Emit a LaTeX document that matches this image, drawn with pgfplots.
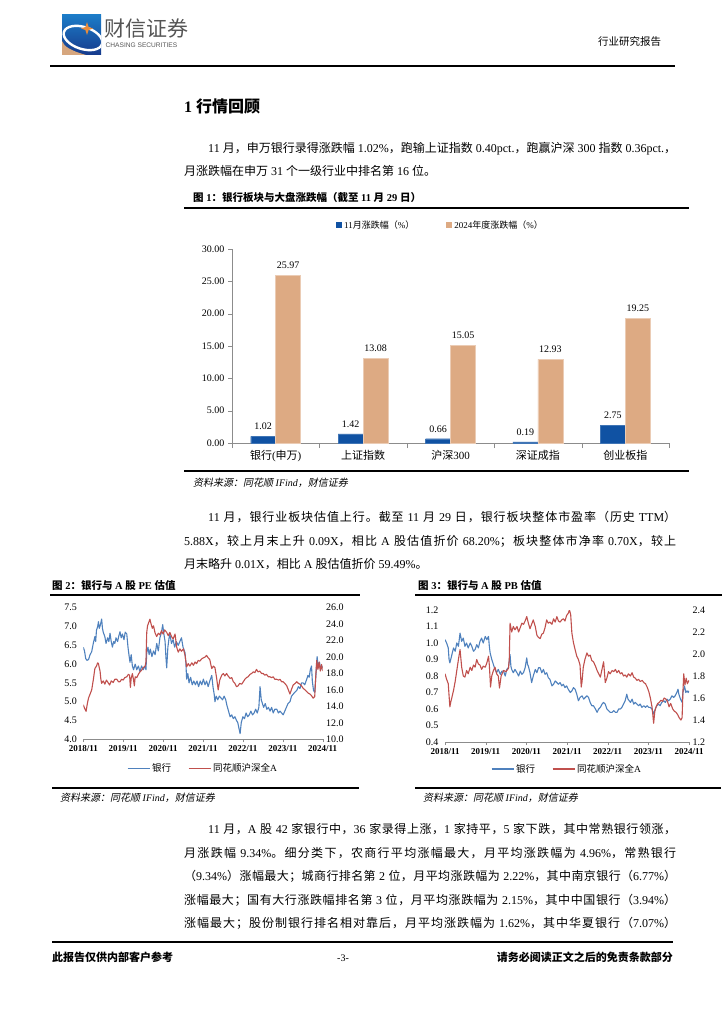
\documentclass[border=0pt]{standalone}
\usepackage{pgfplots}
\pgfplotsset{compat=1.18}
\usepackage{fontspec}
\setmainfont{Liberation Serif}
\newfontfamily\cjkfam{Noto Sans CJK SC}[NFSSFamily=notocjk, AutoFakeSlant=0.2]
\newfontfamily\sansfam{Liberation Sans}
\newXeTeXintercharclass\CJKcls
\makeatletter
\def\setcjkrange#1#2{\count@=#1\relax
  \loop\XeTeXcharclass\count@=\CJKcls\relax
  \ifnum\count@<#2\relax\advance\count@\@ne\repeat}
\setcjkrange{"3000}{"303F}
\setcjkrange{"4E00}{"9FFF}
\setcjkrange{"FF01}{"FF5E}
\makeatother
\XeTeXinterchartoks 0 \CJKcls = {\fontfamily{notocjk}\selectfont}
\XeTeXinterchartoks 4095 \CJKcls = {\fontfamily{notocjk}\selectfont}
\XeTeXinterchartoks \CJKcls 0 = {\fontfamily{\rmdefault}\selectfont}
\XeTeXinterchartoks \CJKcls 4095 = {\fontfamily{\rmdefault}\selectfont}
\XeTeXinterchartoks \CJKcls \CJKcls = {\hskip 0pt plus 1.5pt minus 0.4pt\relax}

\definecolor{barblue}{RGB}{16,82,163}
\definecolor{bartan}{RGB}{221,170,131}
\definecolor{lblue}{RGB}{79,129,189}
\definecolor{lred}{RGB}{192,80,77}
\definecolor{axgray}{RGB}{140,140,140}
\definecolor{logoA}{RGB}{28,124,200}
\definecolor{logoB}{RGB}{22,58,140}
\definecolor{logotan}{RGB}{214,166,126}
\definecolor{logoorange}{RGB}{232,140,60}
\definecolor{logogray}{RGB}{85,85,85}

\newcommand\body{\fontsize{12}{12}\selectfont}

\pgfplotsset{
  /pgf/number format/assume math mode=true,
  lcbase/.style={
    scale only axis, xmin=0, xmax=6,
    yticklabel style={font=\fontsize{10}{10}\selectfont,
      /pgf/number format/.cd, fixed, fixed zerofill, precision=1},
  },
}

\begin{document}
\XeTeXinterchartokenstate=1
\begin{tikzpicture}
\useasboundingbox (0pt,0pt) rectangle (724pt,-1024pt);

% ---------- header ----------
\begin{scope}
  \clip (62pt,-15pt) rectangle (101pt,-55pt);
  \shade[top color=logoA, bottom color=logoB] (62pt,-15pt) rectangle (101pt,-55pt);
  \fill[logotan] (62pt,-41pt) -- (62pt,-55pt) -- (86pt,-55pt) .. controls (72pt,-51pt) and (64pt,-47pt) .. (62pt,-41pt) -- cycle;
  \draw[white, line width=2.4pt, rotate around={-18:(83pt,-38pt)}] (83pt,-38pt) ellipse (20pt and 11pt);
  \fill[logoorange] (87pt,-22pt) -- (88.6pt,-27pt) -- (93pt,-28.5pt) -- (88.6pt,-30pt) -- (87pt,-35pt) -- (85.4pt,-30pt) -- (81pt,-28.5pt) -- (85.4pt,-27pt) -- cycle;
\end{scope}
\node[anchor=base west, inner sep=0pt, font=\fontsize{21}{21}\selectfont, text=logogray] at (104pt,-37pt) {财信证券};
\node[anchor=base west, inner sep=0pt, font=\sansfam\fontsize{6.6}{6.6}\selectfont, text=logogray] at (105.5pt,-48pt) {CHASING SECURITIES};
\node[anchor=base west, inner sep=0pt, font=\fontsize{10.5}{10.5}\selectfont] at (598pt,-46pt) {行业研究报告};
\draw[line width=1.2pt] (50pt,-66pt) -- (675pt,-66pt);

% ---------- section title & paragraph 1 ----------
\node[anchor=base west, inner sep=0pt, font=\bfseries\fontsize{16}{16}\selectfont] at (184pt,-113pt) {1 行情回顾};
\node[anchor=base west, inner sep=0pt, font=\body] at (208pt,-152.6pt) {\hbox to 468pt{11 月，申万银行录得涨跌幅 1.02\%，跑输上证指数 0.40pct.，跑赢沪深 300 指数 0.36pct.，}};
\node[anchor=base west, inner sep=0pt, font=\body] at (184pt,-175.6pt) {月涨跌幅在申万 31 个一级行业中排名第 16 位。};

% ---------- figure 1 ----------
\node[anchor=base west, inner sep=0pt, font=\bfseries\fontsize{10.5}{10.5}\selectfont] at (193pt,-202pt) {图 1：银行板块与大盘涨跌幅（截至 11 月 29 日）};
\draw[line width=1.4pt] (184pt,-208pt) -- (689pt,-208pt);

\begin{axis}[
  at={(232pt,-443pt)}, anchor=south west, scale only axis,
  width=437pt, height=194pt,
  ybar=0pt, bar width=25pt,
  xmin=-0.5, xmax=4.5, ymin=0, ymax=30,
  ytick={0,5,10,15,20,25,30},
  xtick={0,1,2,3,4},
  xticklabels={银行(申万),上证指数,沪深300,深证成指,创业板指},
  minor xtick={-0.5,0.5,1.5,2.5,3.5,4.5},
  axis x line*=bottom, axis y line*=left,
  axis line style={-, draw=axgray},
  tick align=outside, major tick length=4pt, minor tick length=5pt,
  major x tick style={draw=none},
  minor x tick style={draw=axgray},
  ytick style={draw=axgray},
  yticklabel style={font=\fontsize{10}{10}\selectfont, /pgf/number format/.cd, fixed, fixed zerofill, precision=2},
  xticklabel style={font=\fontsize{11}{11}\selectfont},
  nodes near coords,
  nodes near coords style={font=\fontsize{10}{10}\selectfont, yshift=3pt, /pgf/number format/.cd, fixed, fixed zerofill, precision=2},
  legend style={at={(0.5,1)}, anchor=south, yshift=16pt, xshift=-10pt, draw=none, fill=none, inner sep=1pt,
    legend columns=2, font=\fontsize{9}{9}\selectfont,
    /tikz/every even column/.append style={column sep=30pt}},
  legend image code/.code={\draw[#1, draw=none] (0pt,-3pt) rectangle (6pt,3pt);},
]
\addplot[fill=barblue, draw=barblue!80!white, line width=0.4pt] coordinates {(0,1.02) (1,1.42) (2,0.66) (3,0.19) (4,2.75)};
\addplot[fill=bartan, draw=bartan!60!white, line width=0.6pt] coordinates {(0,25.97) (1,13.08) (2,15.05) (3,12.93) (4,19.25)};
\legend{11月涨跌幅（\%）, 2024年度涨跌幅（\%）}
\end{axis}

\draw[line width=1.4pt] (184pt,-471pt) -- (689pt,-471pt);
\node[anchor=base west, inner sep=0pt, font=\itshape\fontsize{10}{10}\selectfont] at (193pt,-486pt) {资料来源：同花顺 IFind，财信证券};

% ---------- paragraph 2 ----------
\node[anchor=base west, inner sep=0pt, font=\body] at (208pt,-521.6pt) {\hbox to 468pt{11 月，银行业板块估值上行。截至 11 月 29 日，银行板块整体市盈率（历史 TTM）}};
\node[anchor=base west, inner sep=0pt, font=\body] at (184pt,-545.1pt) {\hbox to 492pt{5.88X，较上月末上升 0.09X，相比 A 股估值折价 68.20\%；板块整体市净率 0.70X，较上}};
\node[anchor=base west, inner sep=0pt, font=\body] at (184pt,-568.6pt) {月末略升 0.01X，相比 A 股估值折价 59.49\%。};

% ---------- figure 2 / 3 titles ----------
\node[anchor=base west, inner sep=0pt, font=\bfseries\fontsize{10.5}{10.5}\selectfont] at (52pt,-589pt) {图 2：银行与 A 股 PE 估值};
\draw[line width=1.4pt] (50pt,-595pt) -- (360pt,-595pt);
\node[anchor=base west, inner sep=0pt, font=\bfseries\fontsize{10.5}{10.5}\selectfont] at (418pt,-589pt) {图 3：银行与 A 股 PB 估值};
\draw[line width=1.4pt] (415pt,-595pt) -- (722pt,-595pt);

% ---------- figure 2: PE ----------
\begin{axis}[lcbase,
  at={(83.3pt,-739.3pt)}, anchor=south west, width=239.4pt, height=131.6pt,
  ymin=4, ymax=7.5, ytick={4,4.5,5,5.5,6,6.5,7,7.5},
  xtick={0,1,2,3,4,5,6},
  xticklabels={2018/11,2019/11,2020/11,2021/11,2022/11,2023/11,2024/11},
  xticklabel style={font=\bfseries\fontsize{9}{9}\selectfont},
  axis x line*=bottom, axis y line*=left,
  x axis line style={-, draw=axgray}, y axis line style={draw=none},
  tick align=outside, major tick length=3pt,
  xtick style={draw=axgray}, ytick style={draw=none},
  legend style={at={(0.5,0)}, anchor=north, yshift=-21pt, draw=none, fill=none, inner sep=1pt,
    legend columns=2, font=\fontsize{9.5}{9.5}\selectfont,
    /tikz/every even column/.append style={column sep=15pt}},
  legend image code/.code={\draw[#1] (0pt,0pt) -- (22pt,0pt);},
]
\addplot[color=lblue, line width=1.1pt, line join=round] coordinates {
(0.00,6.45)(0.03,6.35)(0.06,6.15)(0.09,6.10)(0.13,6.12)(0.17,6.25)(0.21,6.33)(0.25,6.55)(0.29,6.73)(0.31,6.60)(0.33,6.90)(0.36,7.00)(0.38,7.13)(0.40,6.95)(0.43,7.05)(0.46,7.20)(0.48,6.95)(0.50,6.85)(0.54,6.73)(0.57,6.55)(0.61,6.70)(0.64,6.60)(0.67,6.82)(0.70,6.60)(0.73,6.45)(0.76,6.60)(0.79,6.55)(0.82,6.70)(0.86,6.60)(0.89,6.75)(0.92,6.86)(0.95,6.70)(0.98,6.80)(1.02,6.65)(1.05,6.85)(1.09,6.80)(1.12,6.45)(1.15,6.20)(1.17,6.05)(1.20,6.25)(1.23,5.95)(1.26,5.85)(1.30,6.00)(1.34,5.85)(1.38,5.95)(1.42,5.80)(1.46,5.95)(1.50,5.85)(1.55,5.95)(1.57,5.85)(1.59,6.30)(1.62,6.45)(1.65,6.25)(1.68,6.40)(1.72,6.20)(1.76,6.35)(1.80,6.25)(1.84,6.55)(1.88,6.35)(1.92,6.70)(1.96,6.85)(1.99,7.05)(2.02,6.80)(2.05,6.60)(2.07,6.20)(2.09,5.90)(2.12,6.45)(2.15,6.70)(2.17,6.80)(2.21,6.55)(2.25,6.65)(2.29,6.45)(2.33,6.60)(2.38,6.50)(2.42,6.60)(2.46,6.70)(2.50,6.45)(2.55,6.30)(2.57,6.05)(2.59,5.60)(2.62,5.75)(2.65,5.50)(2.69,5.65)(2.73,5.45)(2.77,5.55)(2.81,5.45)(2.85,5.55)(2.89,5.40)(2.93,5.55)(2.97,5.45)(3.01,5.60)(3.05,5.45)(3.09,5.55)(3.13,5.40)(3.17,5.55)(3.22,5.70)(3.25,5.40)(3.28,5.20)(3.30,5.00)(3.33,5.15)(3.37,5.05)(3.41,5.15)(3.45,5.10)(3.49,5.05)(3.53,5.15)(3.57,5.05)(3.60,4.90)(3.64,4.75)(3.68,4.60)(3.72,4.65)(3.76,4.55)(3.80,4.60)(3.84,4.50)(3.87,4.45)(3.90,4.30)(3.93,4.15)(3.96,4.45)(4.00,4.60)(4.04,4.55)(4.08,4.70)(4.12,4.60)(4.16,4.65)(4.20,4.75)(4.24,4.65)(4.28,4.70)(4.32,4.80)(4.36,4.70)(4.40,4.85)(4.43,5.40)(4.46,5.05)(4.49,4.95)(4.52,4.85)(4.56,4.95)(4.60,4.80)(4.64,4.85)(4.68,4.75)(4.72,4.85)(4.76,4.70)(4.80,4.80)(4.85,4.80)(4.89,4.70)(4.93,4.75)(4.97,4.70)(5.01,4.65)(5.05,4.75)(5.09,4.85)(5.13,4.95)(5.18,5.00)(5.22,5.15)(5.26,5.20)(5.30,5.25)(5.35,5.30)(5.39,5.40)(5.43,5.35)(5.47,5.50)(5.51,5.50)(5.55,5.45)(5.60,5.60)(5.63,5.70)(5.66,5.65)(5.69,5.85)(5.72,5.95)(5.74,5.55)(5.77,5.30)(5.80,5.25)(5.83,5.70)(5.86,6.20)(5.89,5.90)(5.92,6.05)(5.95,5.85)(5.98,5.95)(6.00,5.90)
};
\addlegendentry{银行}
\addlegendimage{color=lred, line width=1.1pt}
\addlegendentry{同花顺沪深全A}
\end{axis}
\begin{axis}[lcbase,
  at={(83.3pt,-739.3pt)}, anchor=south west, width=239.4pt, height=131.6pt,
  ymin=10, ymax=26, ytick={10,12,14,16,18,20,22,24,26},
  hide x axis, axis y line*=right,
  y axis line style={draw=none}, ytick style={draw=none},
]
\addplot[color=lred, line width=1.1pt, line join=round] coordinates {
(0.00,14.2)(0.03,13.8)(0.07,13.4)(0.10,14.3)(0.13,15.0)(0.17,15.5)(0.21,16.0)(0.25,17.2)(0.29,18.6)(0.33,18.9)(0.36,19.3)(0.38,19.2)(0.40,18.7)(0.42,18.3)(0.44,17.3)(0.46,16.8)(0.50,17.1)(0.54,16.7)(0.58,17.2)(0.62,16.9)(0.66,16.6)(0.70,17.1)(0.75,16.9)(0.79,17.3)(0.84,17.3)(0.88,17.0)(0.92,17.0)(0.96,17.3)(1.00,17.2)(1.04,17.5)(1.09,17.6)(1.13,17.9)(1.16,17.8)(1.18,16.3)(1.20,17.4)(1.23,18.0)(1.26,17.2)(1.28,16.5)(1.30,17.6)(1.34,17.5)(1.38,17.9)(1.42,18.2)(1.46,18.4)(1.50,18.7)(1.55,18.9)(1.57,19.4)(1.59,23.0)(1.61,23.8)(1.64,24.2)(1.67,24.6)(1.70,24.0)(1.73,23.5)(1.76,23.8)(1.80,22.9)(1.84,22.5)(1.88,22.9)(1.92,22.7)(1.96,23.2)(2.00,22.8)(2.04,23.3)(2.09,23.0)(2.13,22.6)(2.17,23.0)(2.21,22.5)(2.25,22.2)(2.30,22.8)(2.32,22.0)(2.34,21.2)(2.38,20.6)(2.42,21.0)(2.46,20.7)(2.51,21.0)(2.55,20.2)(2.59,18.8)(2.63,19.2)(2.67,18.9)(2.72,19.3)(2.76,19.0)(2.80,19.4)(2.84,19.2)(2.88,19.6)(2.92,19.5)(2.97,19.8)(3.01,19.9)(3.05,20.0)(3.09,20.2)(3.13,19.9)(3.17,19.7)(3.20,19.0)(3.22,18.6)(3.26,18.9)(3.30,18.7)(3.34,17.5)(3.38,16.0)(3.42,17.2)(3.47,17.8)(3.51,18.0)(3.55,17.7)(3.59,18.0)(3.63,17.7)(3.68,17.4)(3.72,17.5)(3.76,17.0)(3.80,16.8)(3.84,16.4)(3.88,16.5)(3.92,16.8)(3.97,16.7)(4.01,17.0)(4.05,17.3)(4.09,17.5)(4.13,17.6)(4.18,17.9)(4.22,18.0)(4.26,18.2)(4.30,18.1)(4.34,18.5)(4.38,18.2)(4.42,18.3)(4.47,18.0)(4.51,18.0)(4.55,17.8)(4.59,17.9)(4.64,17.6)(4.68,17.6)(4.72,17.5)(4.76,17.6)(4.80,17.3)(4.85,17.3)(4.89,17.2)(4.93,17.3)(4.97,17.0)(5.01,17.0)(5.05,16.8)(5.10,16.5)(5.14,16.0)(5.18,15.5)(5.22,16.1)(5.26,16.6)(5.31,16.8)(5.35,17.0)(5.39,16.8)(5.43,16.7)(5.47,16.5)(5.51,16.2)(5.56,16.0)(5.60,15.8)(5.64,15.6)(5.68,15.5)(5.72,15.3)(5.76,15.0)(5.80,15.2)(5.83,18.0)(5.85,19.6)(5.88,18.5)(5.91,19.4)(5.94,18.3)(5.97,19.1)(6.00,18.3)
};
\end{axis}

% ---------- figure 3: PB ----------
\begin{axis}[lcbase,
  at={(445pt,-742pt)}, anchor=south west, width=244pt, height=132pt,
  ymin=0.4, ymax=1.2, ytick={0.4,0.5,0.6,0.7,0.8,0.9,1.0,1.1,1.2},
  xtick={0,1,2,3,4,5,6},
  xticklabels={2018/11,2019/11,2020/11,2021/11,2022/11,2023/11,2024/11},
  xticklabel style={font=\bfseries\fontsize{9}{9}\selectfont},
  axis x line*=bottom, axis y line*=left,
  x axis line style={-, draw=axgray}, y axis line style={draw=none},
  tick align=outside, major tick length=3pt,
  xtick style={draw=axgray}, ytick style={draw=none},
  legend style={at={(0.5,0)}, anchor=north, yshift=-19pt, draw=none, fill=none, inner sep=1pt,
    legend columns=2, font=\fontsize{9.5}{9.5}\selectfont,
    /tikz/every even column/.append style={column sep=15pt}},
  legend image code/.code={\draw[#1] (0pt,0pt) -- (22pt,0pt);},
]
\addplot[color=lblue, line width=1.1pt, line join=round] coordinates {
(0.00,1.02)(0.04,1.00)(0.08,0.97)(0.10,0.90)(0.12,0.88)(0.16,0.92)(0.21,0.97)(0.25,0.95)(0.29,1.00)(0.33,0.98)(0.37,1.06)(0.41,1.01)(0.45,1.03)(0.49,0.98)(0.53,1.00)(0.57,0.97)(0.62,1.00)(0.66,0.98)(0.70,0.95)(0.74,0.96)(0.78,0.99)(0.82,0.97)(0.86,1.01)(0.90,1.03)(0.94,1.00)(0.99,1.04)(1.03,1.02)(1.07,1.04)(1.09,0.98)(1.11,0.94)(1.15,0.90)(1.19,0.87)(1.23,0.84)(1.27,0.82)(1.31,0.84)(1.36,0.81)(1.40,0.83)(1.44,0.83)(1.48,0.80)(1.52,0.84)(1.56,0.85)(1.60,0.93)(1.62,0.86)(1.64,0.84)(1.68,0.82)(1.72,0.84)(1.77,0.82)(1.81,0.80)(1.85,0.83)(1.89,0.81)(1.93,0.82)(1.97,0.85)(2.01,0.91)(2.03,0.87)(2.05,0.86)(2.09,0.82)(2.13,0.76)(2.17,0.80)(2.22,0.84)(2.26,0.82)(2.30,0.85)(2.34,0.85)(2.38,0.82)(2.42,0.84)(2.46,0.81)(2.50,0.82)(2.54,0.79)(2.58,0.78)(2.63,0.74)(2.67,0.75)(2.71,0.77)(2.75,0.76)(2.79,0.75)(2.83,0.76)(2.87,0.74)(2.91,0.75)(2.95,0.73)(2.99,0.74)(3.03,0.72)(3.08,0.70)(3.12,0.71)(3.16,0.73)(3.20,0.72)(3.24,0.69)(3.28,0.65)(3.32,0.67)(3.37,0.68)(3.41,0.66)(3.45,0.67)(3.49,0.68)(3.53,0.67)(3.57,0.64)(3.61,0.62)(3.65,0.62)(3.70,0.60)(3.74,0.58)(3.78,0.60)(3.82,0.61)(3.86,0.63)(3.90,0.64)(3.94,0.63)(3.98,0.60)(4.02,0.59)(4.06,0.58)(4.11,0.58)(4.15,0.59)(4.19,0.58)(4.23,0.58)(4.27,0.60)(4.31,0.60)(4.35,0.61)(4.39,0.63)(4.43,0.65)(4.47,0.69)(4.50,0.66)(4.53,0.65)(4.56,0.64)(4.60,0.66)(4.64,0.63)(4.68,0.64)(4.72,0.63)(4.76,0.62)(4.80,0.63)(4.84,0.61)(4.89,0.62)(4.93,0.61)(4.97,0.62)(5.01,0.61)(5.05,0.61)(5.09,0.60)(5.13,0.57)(5.17,0.60)(5.21,0.62)(5.25,0.63)(5.29,0.62)(5.33,0.64)(5.38,0.65)(5.42,0.64)(5.46,0.66)(5.50,0.65)(5.54,0.66)(5.58,0.68)(5.62,0.67)(5.66,0.68)(5.70,0.70)(5.73,0.72)(5.75,0.69)(5.79,0.66)(5.83,0.64)(5.85,0.70)(5.89,0.74)(5.92,0.70)(5.95,0.71)(5.98,0.70)(6.00,0.71)
};
\addlegendentry{银行}
\addlegendimage{color=lred, line width=1.1pt}
\addlegendentry{同花顺沪深全A}
\end{axis}
\begin{axis}[lcbase,
  at={(445pt,-742pt)}, anchor=south west, width=244pt, height=132pt,
  ymin=1.2, ymax=2.4, ytick={1.2,1.4,1.6,1.8,2.0,2.2,2.4},
  hide x axis, axis y line*=right,
  y axis line style={draw=none}, ytick style={draw=none},
]
\addplot[color=lred, line width=1.1pt, line join=round] coordinates {
(0.00,1.82)(0.04,1.77)(0.08,1.73)(0.10,1.62)(0.12,1.52)(0.14,1.56)(0.16,1.59)(0.21,1.67)(0.25,1.75)(0.29,1.85)(0.33,1.95)(0.37,2.04)(0.39,1.96)(0.41,1.88)(0.45,1.80)(0.49,1.79)(0.53,1.85)(0.57,1.82)(0.62,1.88)(0.66,1.85)(0.70,1.90)(0.74,1.88)(0.78,1.95)(0.82,1.91)(0.86,1.90)(0.90,1.86)(0.94,1.89)(0.99,1.88)(1.03,1.92)(1.07,1.98)(1.09,1.90)(1.12,1.70)(1.15,1.80)(1.19,1.85)(1.23,1.88)(1.27,1.82)(1.31,1.80)(1.34,1.69)(1.38,1.80)(1.44,1.85)(1.50,1.84)(1.56,1.87)(1.58,1.95)(1.60,2.28)(1.64,2.20)(1.68,2.25)(1.72,2.22)(1.77,2.25)(1.81,2.20)(1.85,2.24)(1.89,2.28)(1.93,2.27)(1.97,2.30)(2.01,2.34)(2.05,2.28)(2.09,2.23)(2.13,2.27)(2.17,2.31)(2.22,2.25)(2.26,2.17)(2.30,2.15)(2.34,2.14)(2.38,2.18)(2.42,2.19)(2.46,2.24)(2.50,2.31)(2.54,2.28)(2.58,2.29)(2.63,2.27)(2.67,2.32)(2.71,2.29)(2.75,2.34)(2.79,2.30)(2.83,2.29)(2.87,2.31)(2.91,2.32)(2.95,2.30)(2.99,2.35)(3.03,2.37)(3.06,2.40)(3.09,2.36)(3.12,2.19)(3.16,2.10)(3.20,2.04)(3.24,1.98)(3.28,1.95)(3.32,1.90)(3.35,1.70)(3.37,1.75)(3.40,1.88)(3.44,1.95)(3.49,2.01)(3.53,1.98)(3.57,1.99)(3.61,1.94)(3.65,1.93)(3.70,1.89)(3.74,1.85)(3.78,1.82)(3.82,1.79)(3.86,1.86)(3.90,1.93)(3.92,1.84)(3.94,1.74)(3.98,1.78)(4.02,1.84)(4.06,1.82)(4.11,1.85)(4.15,1.84)(4.19,1.86)(4.23,1.83)(4.27,1.85)(4.31,1.82)(4.35,1.83)(4.39,1.80)(4.43,1.81)(4.47,1.79)(4.51,1.82)(4.56,1.80)(4.60,1.83)(4.64,1.79)(4.68,1.78)(4.72,1.76)(4.76,1.77)(4.80,1.75)(4.85,1.76)(4.89,1.74)(4.93,1.73)(4.97,1.70)(5.01,1.66)(5.05,1.60)(5.09,1.52)(5.11,1.45)(5.13,1.37)(5.16,1.48)(5.19,1.52)(5.23,1.55)(5.27,1.56)(5.31,1.58)(5.35,1.57)(5.39,1.60)(5.43,1.59)(5.47,1.57)(5.51,1.52)(5.55,1.55)(5.60,1.50)(5.64,1.48)(5.68,1.47)(5.72,1.45)(5.76,1.42)(5.80,1.40)(5.83,1.42)(5.85,1.65)(5.87,1.82)(5.90,1.72)(5.93,1.78)(5.96,1.73)(6.00,1.76)
};
\end{axis}

% ---------- sources under fig 2/3 ----------
\draw[line width=1.4pt] (52pt,-788pt) -- (359pt,-788pt);
\draw[line width=1.4pt] (415pt,-788pt) -- (721pt,-788pt);
\node[anchor=base west, inner sep=0pt, font=\itshape\fontsize{10}{10}\selectfont] at (60pt,-801pt) {资料来源：同花顺 IFind，财信证券};
\node[anchor=base west, inner sep=0pt, font=\itshape\fontsize{10}{10}\selectfont] at (423pt,-801pt) {资料来源：同花顺 IFind，财信证券};

% ---------- paragraph 3 ----------
\node[anchor=base west, inner sep=0pt, font=\body] at (208pt,-833.6pt) {\hbox to 468pt{11 月，A 股 42 家银行中，36 家录得上涨，1 家持平，5 家下跌，其中常熟银行领涨，}};
\node[anchor=base west, inner sep=0pt, font=\body] at (184pt,-857.1pt) {\hbox to 492pt{月涨跌幅 9.34\%。细分类下，农商行平均涨幅最大，月平均涨跌幅为 4.96\%，常熟银行}};
\node[anchor=base west, inner sep=0pt, font=\body] at (184pt,-880.6pt) {\hbox to 492pt{（9.34\%）涨幅最大；城商行排名第 2 位，月平均涨跌幅为 2.22\%，其中南京银行（6.77\%）}};
\node[anchor=base west, inner sep=0pt, font=\body] at (184pt,-904.1pt) {\hbox to 492pt{涨幅最大；国有大行涨跌幅排名第 3 位，月平均涨跌幅为 2.15\%，其中中国银行（3.94\%）}};
\node[anchor=base west, inner sep=0pt, font=\body] at (184pt,-927.6pt) {\hbox to 492pt{涨幅最大；股份制银行排名相对靠后，月平均涨跌幅为 1.62\%，其中华夏银行（7.07\%）}};

% ---------- footer ----------
\draw[line width=1.8pt] (52pt,-942pt) -- (673pt,-942pt);
\node[anchor=base west, inner sep=0pt, font=\bfseries\fontsize{11}{11}\selectfont] at (52pt,-961pt) {此报告仅供内部客户参考};
\node[anchor=base, inner sep=0pt, font=\fontsize{10}{10}\selectfont] at (343pt,-961pt) {-3-};
\node[anchor=base east, inner sep=0pt, font=\bfseries\fontsize{11}{11}\selectfont] at (673pt,-961pt) {请务必阅读正文之后的免责条款部分};
\end{tikzpicture}
\end{document}
